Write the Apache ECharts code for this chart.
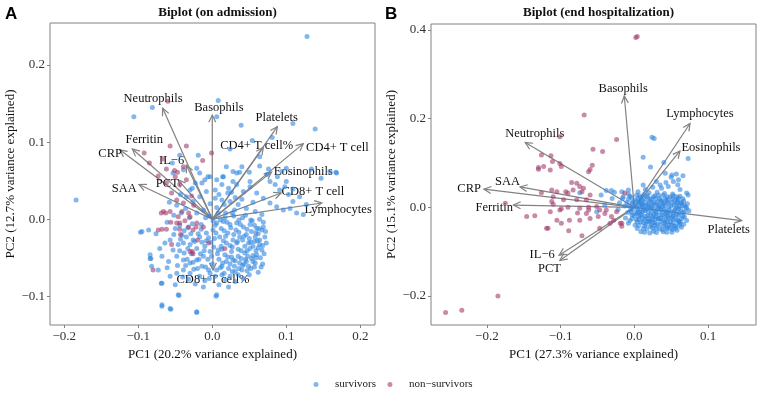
<!DOCTYPE html>
<html><head><meta charset="utf-8">
<script src="https://cdn.jsdelivr.net/npm/echarts@6/dist/echarts.min.js"></script>
<style>html,body{margin:0;padding:0;background:#fff}#c{width:762px;height:401px}</style>
</head><body><div id="c"></div>
<script>
// ---------- Panel A data ----------
var survA = [
[0.128,0.237],[-0.184,0.025],[-0.081,0.145],[-0.106,0.133],[0.008,0.154],[0.006,0.133],[0.039,0.122],[0.109,0.124],[0.139,0.117],[0.167,0.061],[0.159,0.062],[0.081,0.106],[0.054,0.102],[-0.097,-0.017],[-0.083,-0.051],[-0.069,-0.083],[-0.068,-0.113],[-0.056,-0.117],[-0.045,-0.099],[-0.021,-0.121],[0.005,-0.1],[-0.023,-0.084],[-0.076,-0.019],[-0.084,-0.046],
[-0.019,0.083],[-0.044,0.083],[0.024,0.091],[0.064,0.081],[0.076,0.065],[0.088,0.055],[0.1,0.049],[0.134,0.065],[0.147,0.053],[0.168,0.06],[0.109,0.039],[0.098,0.042],[0.051,0.049],[0.037,0.061],[0.028,0.049],[0.014,0.055],[0.004,0.038],[-0.006,0.055],[-0.014,0.047],[-0.027,0.04],[-0.043,0.032],[-0.053,0.06],[-0.039,0.064],[-0.054,0.073],[-0.021,0.066],[0.064,0.069],[0.05,0.061],[0.074,0.058],[0.094,0.062],[0.1,0.066],[0.033,0.06],[0.021,0.034],[0.031,0.028],
[0.019,0.068],[0.028,0.062],[0.04,0.068],[0.078,0.049],[0.085,0.045],[0.091,0.038],[0.103,0.032],[0.109,0.023],[0.118,0.029],[0.127,0.019],
[-0.017,0.06],[-0.01,0.051],[-0.003,0.055],[0.006,0.051],[0.015,0.055],[0.013,0.045],[0.022,0.04],[0.033,0.045],[0.042,0.036],[0.051,0.042],[0.06,0.034],[0.069,0.027],[0.078,0.021],[0.087,0.016],[0.096,0.012],[0.105,0.014],[0.114,0.008],[0.123,0.006],[-0.008,0.036],[-0.017,0.029],[-0.026,0.023],[-0.035,0.029],[-0.03,0.038],[-0.023,0.047],[0.004,0.027],[0.013,0.025],[0.024,0.023],[0.035,0.019],[0.046,0.014],[0.058,0.01],[0.067,0.006],
[-0.012,0.012],[-0.021,0.008],[0.006,0.015],[0.018,0.008],[0.029,0.004],[0.041,0.002],[0.052,-0.001],[0.064,0.0],[-0.004,0.004],[0.011,-0.001],
[-0.048,0.018],[-0.042,0.008],[-0.036,0.014],[-0.052,0.005],[-0.058,0.022],[-0.031,0.002],[-0.027,-0.006],[-0.044,-0.008],[-0.038,-0.015],[-0.05,-0.012],[-0.061,-0.004],
[0.006,-0.005],[0.015,-0.003],[0.024,-0.007],[0.033,-0.005],[0.042,-0.01],[0.051,-0.007],[0.06,-0.012],[0.069,-0.01],[0.053,-0.016],[0.046,-0.02],[0.058,-0.023],[0.064,-0.027],[0.037,-0.023],[0.028,-0.027],[0.019,-0.031],[0.01,-0.023],[0.001,-0.014],[-0.008,-0.018],[-0.017,-0.023],[-0.026,-0.027],[-0.035,-0.023],[-0.039,-0.031],[-0.03,-0.033],[-0.021,-0.038],[-0.01,-0.035],[-0.003,-0.042],[0.008,-0.04],[0.017,-0.046],[0.026,-0.042],[0.035,-0.048],[0.044,-0.044],[0.053,-0.051],[0.046,-0.055],[0.037,-0.057],[0.028,-0.053],[0.019,-0.055],[0.013,-0.061],[0.022,-0.064],[0.03,-0.061],[0.04,-0.066],[0.049,-0.061],[0.058,-0.057],[0.06,-0.046],[0.067,-0.04],[0.064,-0.033],[0.055,-0.035],[0.049,-0.031],[0.071,-0.023],[0.067,-0.014],[0.073,-0.031],[0.062,-0.019],[-0.012,-0.048],[-0.021,-0.053],[-0.03,-0.057],[-0.039,-0.053],[-0.048,-0.048],[-0.053,-0.04],[-0.046,-0.033],[-0.057,-0.027],[-0.064,-0.031],[-0.071,-0.038],[-0.059,-0.055],[-0.068,-0.048],[-0.039,-0.066],[-0.03,-0.07],[-0.014,-0.061],[-0.005,-0.066],[0.004,-0.074],[0.013,-0.072],[0.024,-0.074],[0.035,-0.072],[0.042,-0.077],[-0.017,-0.074],[-0.048,-0.07],[-0.057,-0.074],[-0.068,-0.083],[-0.046,-0.098],[0.006,-0.098],[-0.021,-0.12],[-0.068,-0.111],[-0.057,-0.116],[-0.084,-0.051],[-0.095,-0.016],[-0.086,-0.014],[-0.082,-0.061],[-0.073,-0.066],
[0.003,-0.025],[0.012,-0.012],[0.021,-0.018],[0.032,-0.014],[0.041,-0.027],[0.052,-0.03],[0.059,-0.041],[0.065,-0.05],[0.057,-0.062],[0.044,-0.035],[0.027,-0.036],[0.015,-0.028],[0.007,-0.045],[-0.006,-0.052],[-0.014,-0.03],[-0.005,-0.024],[-0.028,-0.045],[-0.036,-0.06],[-0.044,-0.041],[-0.02,-0.064],[0.0,-0.058],[0.016,-0.07],[0.031,-0.081],[0.05,-0.072],[0.062,-0.069],[0.068,-0.058],[0.07,-0.045],[0.072,-0.016],[0.069,-0.004],[0.038,-0.007],[0.026,-0.049],[0.035,-0.039],[0.048,-0.048],[0.055,-0.055],[-0.01,-0.08],[0.009,-0.085],[-0.032,-0.078],[-0.05,-0.085],
[-0.041,-0.021],[-0.033,-0.038],[-0.024,-0.029],[-0.016,-0.045],[-0.008,-0.028],[0.002,-0.036],[0.009,-0.052],[0.018,-0.022],[0.024,-0.058],[0.033,-0.031],[0.039,-0.051],[0.047,-0.041],[0.055,-0.047],[0.061,-0.028],[0.066,-0.062],[0.027,-0.068],[0.018,-0.079],[-0.003,-0.07],[-0.026,-0.056],[-0.038,-0.044],[-0.047,-0.06],[-0.061,-0.063],[-0.015,-0.013],[0.004,-0.008],[0.02,-0.004],[0.036,-0.017],[0.057,-0.008],[0.045,0.005],[0.03,0.012],[0.016,0.019],[-0.003,0.02],[0.009,0.032],[0.026,0.035],[0.04,0.026],[0.055,0.022],[-0.009,-0.062],[0.011,-0.063],[0.043,-0.058],[0.059,-0.018],[0.05,-0.025],[0.029,-0.02],[0.013,-0.039],[-0.001,-0.048],[-0.019,-0.019],[-0.033,-0.011],[0.036,-0.064],[0.052,-0.064],[-0.012,-0.088],[0.022,-0.088],[-0.04,-0.075],
[0.025,-0.011],[0.034,-0.029],[0.043,-0.022],[0.051,-0.038],[0.062,-0.037],[0.057,-0.029],[0.039,-0.041],[0.031,-0.054],[0.021,-0.049],[0.012,-0.035],[0.005,-0.018],[-0.002,-0.03],[-0.011,-0.041],[-0.018,-0.052],[-0.025,-0.065],[-0.034,-0.052],[-0.043,-0.026],[-0.052,-0.02],[0.047,-0.067],[0.059,-0.05],[0.068,-0.034],[0.063,-0.012],[0.054,-0.002],[0.047,-0.013],[0.036,-0.001],[0.027,0.008],[0.017,0.002],[0.008,0.008],[0.001,-0.002],[-0.009,0.002],[0.014,-0.057],[0.006,-0.066],[-0.004,-0.077],[0.031,-0.068],[0.045,-0.052],[0.024,-0.034],[0.016,-0.015],[0.041,-0.06],[-0.015,-0.007],[-0.029,-0.019]
];
var nonA = [
[-0.057,0.095],[-0.035,0.095],[-0.092,0.086],[-0.001,0.086],[-0.085,0.073],[-0.062,0.065],[-0.047,0.061],[-0.039,0.068],[-0.050,0.055],[-0.062,0.047],[-0.044,0.045],[-0.035,0.051],[-0.055,0.034],[-0.048,0.025],[-0.039,0.021],[-0.066,0.010],[-0.057,0.010],[-0.041,0.010],[-0.032,0.008],[-0.046,0.003],[-0.044,-0.005],[-0.037,-0.002],[-0.030,0.003],[-0.021,-0.005],[-0.012,-0.010],[-0.073,-0.014],[-0.068,-0.013],[-0.062,-0.013],[-0.044,-0.013],[-0.032,-0.010],[-0.026,-0.014],[-0.043,-0.020],[-0.020,-0.027],[-0.005,-0.031],[0.017,-0.038],[-0.030,-0.042],[-0.026,-0.045],[-0.080,-0.066],[-0.055,-0.033],[-0.022,-0.010],[-0.048,-0.005],
[-0.060,0.153],[-0.013,0.076],[-0.051,0.063],[-0.067,0.078],[-0.073,0.056],[-0.028,0.030],[-0.025,0.018],[-0.069,0.008],[-0.063,0.008],[-0.056,-0.004],[-0.027,-0.042]
];
var varNamesA = ['Neutrophils','Basophils','Platelets','CD4+ T cell%','CD4+ T cell','Eosinophils','CD8+ T cell','Lymphocytes','CD8+ T cell%','CRP','Ferritin','IL\u22126','SAA','PCT'];
var loadingsA = [[-0.067,0.144],[0.000,0.135],[0.088,0.120],[0.069,0.093],[0.123,0.098],[0.080,0.061],[0.093,0.034],[0.148,0.021],[0.001,-0.066],[-0.125,0.090],[-0.108,0.091],[-0.035,0.070],[-0.099,0.045],[-0.046,0.051]];
var labelAtA = [[-0.080,0.156],[0.009,0.144],[0.087,0.132],[0.060,0.095],[0.169,0.093],[0.123,0.061],[0.136,0.035],[0.170,0.012],[0.001,-0.078],[-0.138,0.085],[-0.092,0.103],[-0.055,0.076],[-0.119,0.039],[-0.061,0.046]];

// ---------- Panel B data ----------
var survB = [
[0.000,0.005],[0.004,-0.003],[0.008,0.010],[0.012,0.002],[0.015,-0.008],[0.019,0.006],[0.022,-0.002],[0.026,0.012],[0.029,-0.010],[0.033,0.004],[0.036,-0.006],[0.040,0.008],[0.043,-0.014],[0.047,0.001],[0.050,-0.009],[0.054,0.006],[0.057,-0.017],[0.060,-0.004],[0.063,0.010],[0.066,-0.012],
[0.002,-0.014],[0.006,-0.021],[0.010,-0.016],[0.014,-0.027],[0.018,-0.019],[0.021,-0.031],[0.025,-0.022],[0.028,-0.035],[0.032,-0.026],[0.035,-0.040],[0.039,-0.029],[0.042,-0.038],[0.046,-0.024],[0.049,-0.033],[0.053,-0.027],[0.056,-0.042],[0.059,-0.030],[0.062,-0.036],[0.045,-0.046],[0.038,-0.050],
[0.030,-0.047],[0.022,-0.044],[0.016,-0.038],[0.009,-0.033],[0.003,-0.028],[-0.003,-0.018],[-0.005,-0.006],[-0.002,0.012],[0.005,0.019],[0.011,0.016],[0.017,0.023],[0.023,0.019],[0.028,0.026],[0.034,0.020],[0.039,0.027],[0.044,0.017],[0.049,0.023],[0.055,0.016],[0.060,0.021],[0.065,0.004],
[0.013,0.029],[0.020,0.033],[0.031,0.034],[0.041,0.031],[0.052,0.030],[0.007,0.026],[-0.004,0.022],[0.068,-0.022],[0.070,0.000],[0.064,-0.045],[0.052,-0.050],[0.026,-0.054],[0.012,-0.048],[0.001,-0.040],[0.009,-0.055],[0.021,-0.058],[0.044,-0.056],[0.058,-0.052],[-0.006,-0.030],[-0.009,-0.012],
[0.016,0.004],[0.024,0.001],[0.031,-0.003],[0.038,0.001],[0.027,-0.016],[0.034,-0.017],[0.041,-0.019],[0.019,-0.011],[0.013,-0.005],[0.007,0.004],[0.048,-0.016],[0.055,-0.006],[0.061,0.003],[0.046,0.010],[0.037,0.013],[0.030,0.008],[0.020,0.013],[0.011,0.007],[0.004,0.013],[0.057,0.009],
[0.024,-0.028],[0.017,-0.032],[0.031,-0.038],[0.041,-0.034],[0.050,-0.040],[0.036,-0.024],[0.011,-0.024],[0.006,-0.010],[0.043,-0.008],[0.052,-0.020],
[0.067,0.014],[0.072,0.008],[0.074,-0.008],[0.071,-0.030],[0.067,-0.038],
[-0.013,0.003],[-0.016,0.020],[-0.020,0.010],[-0.012,-0.024],[-0.008,0.030],
[0.024,0.158],[0.027,0.155],[0.012,0.113],[0.040,0.101],[0.073,0.110],[0.022,0.091],[0.042,0.077],[0.057,0.075],[0.050,0.068],[0.030,0.058],[0.037,0.043],[0.053,0.058],[0.060,0.062],[0.057,0.024],[0.005,0.035],[0.071,0.032],[0.062,0.040],[0.046,0.047],[0.035,0.050],[0.025,0.045],[0.015,0.040],[-0.038,0.038],[-0.031,0.038],[-0.015,0.024],[-0.008,0.039],[-0.017,0.035],[-0.027,0.034],[-0.074,0.033],[-0.051,-0.010],[-0.008,-0.036],[0.044,-0.047],[0.062,-0.032],[-0.030,0.020],[-0.022,-0.005],[-0.040,0.005],[-0.045,0.028],
[0.051,0.073],[0.066,0.071],[0.059,0.051],[0.043,0.056],[0.012,0.050],[0.073,0.028],
[-0.006,0.025],[0.003,0.027],[0.009,0.022],[0.018,0.026],[0.026,0.024],[0.033,0.027],[0.045,0.024],[0.053,0.026],[0.062,0.025],
[-0.008,0.018],[0.001,0.016],[0.014,0.019],[0.021,0.017],[0.029,0.019],[0.036,0.016],[0.042,0.020],[0.051,0.018],[0.058,0.017],[0.066,0.019],
[-0.010,0.011],[-0.003,0.009],[0.009,0.012],[0.015,0.010],[0.024,0.009],[0.032,0.012],[0.039,0.010],[0.045,0.013],[0.051,0.011],[0.059,0.012],[0.064,0.010],
[-0.007,0.003],[0.003,0.001],[0.010,0.004],[0.020,0.002],[0.027,0.005],[0.035,0.002],[0.042,0.004],[0.050,0.003],[0.058,0.001],[0.068,0.004],
[-0.002,-0.004],[0.008,-0.006],[0.017,-0.003],[0.026,-0.005],[0.033,-0.002],[0.040,-0.004],[0.047,-0.006],[0.056,-0.003],[0.063,-0.005],[0.071,-0.002],
[-0.004,-0.011],[0.004,-0.012],[0.011,-0.010],[0.023,-0.012],[0.030,-0.013],[0.038,-0.010],[0.045,-0.012],[0.054,-0.011],[0.061,-0.013],[0.068,-0.010],
[0.000,-0.019],[0.008,-0.018],[0.015,-0.020],[0.022,-0.019],[0.029,-0.021],[0.038,-0.018],[0.045,-0.020],[0.053,-0.019],[0.060,-0.018],[0.066,-0.020],
[-0.003,-0.026],[0.006,-0.027],[0.019,-0.025],[0.028,-0.027],[0.033,-0.026],[0.043,-0.028],[0.050,-0.025],[0.057,-0.027],[0.064,-0.026],
[0.004,-0.033],[0.012,-0.034],[0.020,-0.032],[0.025,-0.034],[0.036,-0.032],[0.045,-0.033],[0.053,-0.035],[0.060,-0.033],
[0.006,-0.041],[0.014,-0.042],[0.023,-0.040],[0.028,-0.041],[0.040,-0.043],[0.047,-0.040],[0.054,-0.042],[0.061,-0.041],
[0.004,-0.048],[0.017,-0.049],[0.025,-0.047],[0.034,-0.049],[0.049,-0.048],[0.056,-0.047],
[0.014,-0.056],[0.030,-0.057],[0.039,-0.055],[0.051,-0.056]
];
var nonB = [
[0.002,0.383],[0.004,0.385],[-0.068,0.208],[-0.101,0.159],[-0.024,0.153],[-0.056,0.131],[-0.043,0.126],[-0.126,0.118],[-0.111,0.103],[-0.123,0.092],[-0.130,0.086],[-0.114,0.084],[-0.101,0.099],[-0.057,0.095],[-0.062,0.080],[-0.126,0.033],[-0.112,0.039],[-0.105,0.035],[-0.093,0.035],[-0.090,0.032],[-0.078,0.054],[-0.074,0.047],[-0.069,0.043],[-0.071,0.035],[-0.085,0.056],[-0.083,0.039],[-0.110,0.024],[-0.112,0.013],[-0.096,0.017],[-0.078,0.017],[-0.065,0.017],[-0.060,0.028],[-0.101,-0.006],[-0.090,0.000],[-0.074,-0.002],[-0.062,-0.006],[-0.051,0.002],[-0.047,-0.006],[-0.040,-0.014],[-0.146,-0.021],[-0.135,-0.019],[-0.114,-0.010],[-0.105,-0.029],[-0.088,-0.029],[-0.117,-0.047],[-0.099,-0.036],[-0.074,-0.029],[-0.060,-0.025],[-0.028,-0.029],[-0.017,-0.036],[-0.024,-0.010],[-0.013,0.032],[-0.038,-0.006],[-0.031,-0.021],[-0.049,-0.021],
[-0.256,-0.237],[-0.234,-0.232],[-0.185,-0.200],[-0.175,0.009],[-0.119,-0.047],[-0.110,0.007],[-0.099,-0.003],[-0.089,-0.053],[-0.071,-0.064],[-0.077,-0.013],[-0.065,-0.014],[-0.047,-0.047],[-0.033,-0.036],[-0.019,-0.036],[-0.017,-0.043],[-0.062,0.000],[-0.130,0.090],[-0.099,0.092],[-0.060,0.085],[-0.113,0.116]
];
var varNamesB = ['Basophils','Lymphocytes','Eosinophils','Neutrophils','SAA','CRP','Ferritin','Platelets','IL\u22126','PCT'];
var loadingsB = [[-0.0136,0.251],[0.0756,0.189],[0.062,0.127],[-0.148,0.146],[-0.155,0.046],[-0.204,0.041],[-0.164,0.005],[0.1457,-0.030],[-0.102,-0.108],[-0.101,-0.120]];
var labelAtB = [[-0.015,0.268],[0.089,0.210],[0.104,0.134],[-0.135,0.165],[-0.172,0.058],[-0.224,0.043],[-0.19,0.0],[0.128,-0.050],[-0.125,-0.106],[-0.115,-0.139]];

// ---------- ticks ----------
var xTicksA = [-0.2,-0.1,0,0.1,0.2];
var yTicksA = [-0.1,0,0.1,0.2];
var xTicksB = [-0.2,-0.1,0,0.1];
var yTicksB = [-0.2,0,0.2,0.4];

var SERIF = '"Liberation Serif","Times New Roman",serif';
var BLUE = '#2f86e0', PURPLE = '#a23c6c', GREY = '#828282';
function fmt(v){ var s = Math.abs(v).toFixed(1); return (v < -1e-9 ? '\u2212' : '') + s; }

function xAxis(gi, min, max, ticks, name){
  return {type:'value', gridIndex:gi, min:min, max:max, splitNumber:4, position:'bottom',
    name:name, nameLocation:'middle', nameGap:21,
    nameTextStyle:{fontFamily:SERIF, fontSize:13, color:'#111'},
    axisLine:{show:false, onZero:false}, splitLine:{show:false},
    axisTick:{show:true, length:3, lineStyle:{color:GREY}, customValues:ticks},
    axisLabel:{fontFamily:SERIF, fontSize:13, color:'#333', margin:5, customValues:ticks, formatter:fmt}};
}
function yAxis(gi, min, max, ticks, name){
  return {type:'value', gridIndex:gi, min:min, max:max, splitNumber:4, position:'left',
    name:name, nameLocation:'middle', nameGap:31,
    nameTextStyle:{fontFamily:SERIF, fontSize:13, color:'#111'},
    axisLine:{show:false, onZero:false}, splitLine:{show:false},
    axisTick:{show:true, length:3, lineStyle:{color:GREY}, customValues:ticks},
    axisLabel:{fontFamily:SERIF, fontSize:13, color:'#333', margin:5, customValues:ticks, formatter:fmt}};
}
function arrowRender(params, api){
  var o = api.coord([0,0]);
  var t = api.coord([api.value(0), api.value(1)]);
  var ang = Math.atan2(t[1]-o[1], t[0]-o[0]);
  var L = 8, a = Math.PI/7;
  var p1 = [t[0]-L*Math.cos(ang-a), t[1]-L*Math.sin(ang-a)];
  var p2 = [t[0]-L*Math.cos(ang+a), t[1]-L*Math.sin(ang+a)];
  return {type:'group', children:[
    {type:'line', shape:{x1:o[0],y1:o[1],x2:t[0],y2:t[1]}, style:{stroke:GREY, lineWidth:1.2}},
    {type:'polyline', shape:{points:[p1,t,p2]}, style:{stroke:GREY, lineWidth:1.2, fill:null}}
  ]};
}
function labelRender(names){
  return function(params, api){
    var p = api.coord([api.value(0), api.value(1)]);
    return {type:'text', x:p[0], y:p[1], style:{text:names[params.dataIndex], fill:'#111',
      font:'12.5px ' + SERIF, align:'center', verticalAlign:'middle'}};
  };
}
function scatter(name, gi, data, color){
  return {type:'scatter', name:name, xAxisIndex:gi, yAxisIndex:gi, data:data, symbolSize:5,
    itemStyle:{color:color, opacity:0.6}, silent:true};
}

var chart = echarts.init(document.getElementById('c'), null, {renderer:'canvas'});
chart.setOption({
  animation:false,
  backgroundColor:'#fff',
  title:[
    {text:'Biplot (on admission)', left:212.5, top:1, textAlign:'center', textStyle:{fontFamily:SERIF, fontSize:13, fontWeight:'bold', color:'#111'}},
    {text:'Biplot (end hospitalization)', left:593.5, top:1, textAlign:'center', textStyle:{fontFamily:SERIF, fontSize:13, fontWeight:'bold', color:'#111'}}
  ],
  graphic:[
    {type:'text', left:5, top:6, style:{text:'A', font:'bold 17px "Liberation Sans",Arial,sans-serif', fill:'#000'}},
    {type:'text', left:385, top:6, style:{text:'B', font:'bold 17px "Liberation Sans",Arial,sans-serif', fill:'#000'}}
  ],
  legend:{data:['survivors','non\u2212survivors'], left:308.5, top:374, icon:'circle', itemWidth:5, itemHeight:5, itemGap:11.5,
    textStyle:{fontFamily:SERIF, fontSize:11, color:'#222', padding:[0,0,0,11.5]}},
  grid:[
    {left:50, top:23, width:325, height:302, show:true, borderColor:GREY, borderWidth:1, containLabel:false},
    {left:431, top:24, width:325, height:301, show:true, borderColor:GREY, borderWidth:1, containLabel:false}
  ],
  xAxis:[ xAxis(0,-0.2193,0.2199,xTicksA,'PC1 (20.2% variance explained)'), xAxis(1,-0.2758,0.1651,xTicksB,'PC1 (27.3% variance explained)') ],
  yAxis:[ yAxis(0,-0.1373,0.2545,yTicksA,'PC2 (12.7% variance explained)'), yAxis(1,-0.2654,0.4133,yTicksB,'PC2 (15.1% variance explained)') ],
  series:[
    scatter('survivors',0,survA,BLUE),
    scatter('non\u2212survivors',0,nonA,PURPLE),
    {type:'custom', xAxisIndex:0, yAxisIndex:0, data:loadingsA, renderItem:arrowRender, silent:true},
    {type:'custom', xAxisIndex:0, yAxisIndex:0, data:labelAtA, renderItem:labelRender(varNamesA), silent:true},
    scatter('survivors',1,survB,BLUE),
    scatter('non\u2212survivors',1,nonB,PURPLE),
    {type:'custom', xAxisIndex:1, yAxisIndex:1, data:loadingsB, renderItem:arrowRender, silent:true},
    {type:'custom', xAxisIndex:1, yAxisIndex:1, data:labelAtB, renderItem:labelRender(varNamesB), silent:true}
  ]
});
</script></body></html>
